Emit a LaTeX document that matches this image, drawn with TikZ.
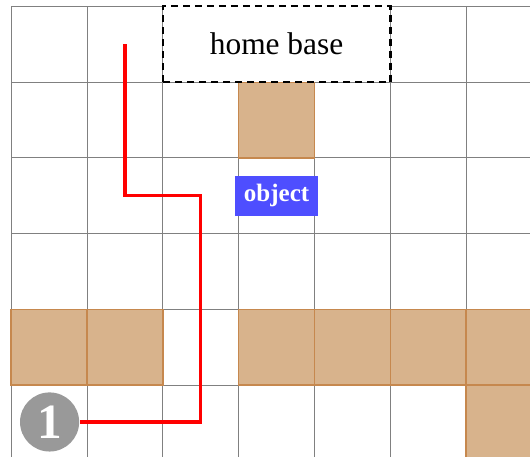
\documentclass[tikz,border=0pt]{standalone}
\usepackage{fontspec}
\setmainfont{Liberation Serif}
\definecolor{tan}{RGB}{216,179,140}
\definecolor{tanedge}{RGB}{198,136,78}
\definecolor{objblue}{RGB}{78,78,255}
\definecolor{markgray}{RGB}{153,153,153}
\tikzset{
  gridline/.style={gray, line width=0.4pt},
  wall/.style={fill=tan, draw=tanedge, line width=0.6pt},
  homebox/.style={draw=black, fill=white, line width=0.9pt, dash pattern=on 2.6pt off 1.9pt},
  objlabel/.style={fill=objblue, text=white, font=\fontsize{9.4}{10}\selectfont\bfseries,
    minimum width=1.1cm, minimum height=0.53cm, inner sep=0pt},
  marker/.style={circle, fill=markgray, text=white, minimum size=0.78cm, inner sep=0pt,
    font=\fontsize{18.5}{19}\selectfont\bfseries},
  route/.style={red, line width=1.2pt}
}
\begin{document}
\begin{tikzpicture}
\useasboundingbox (-0.149,0.054) rectangle (6.843,6.083);
\clip (-0.149,0.054) rectangle (6.843,6.083);
% grid
\draw[gridline] (0,0) grid (7,6);
% walls
\foreach \x in {0,1,3,4,5,6}
  \draw[wall] (\x,1) rectangle ++(1,1);
\draw[wall] (6,0) rectangle ++(1,1);
\draw[wall] (3,4) rectangle ++(1,1);
% home base
\draw[homebox] (2,5) rectangle (5,6);
\node[font=\fontsize{11.8}{14}\selectfont] (home) at (3.5,5.5) {home base};
% object
\node[objlabel] (obj) at (3.5,3.5) {object};
% robot start
\node[marker] (one) at (0.505,0.516) {1};
% route
\coordinate (top) at (1.5,5.5);
\coordinate (turn) at (2.5,3.5);
\draw[route] (top) |- (turn) |- (one);
\end{tikzpicture}
\end{document}
